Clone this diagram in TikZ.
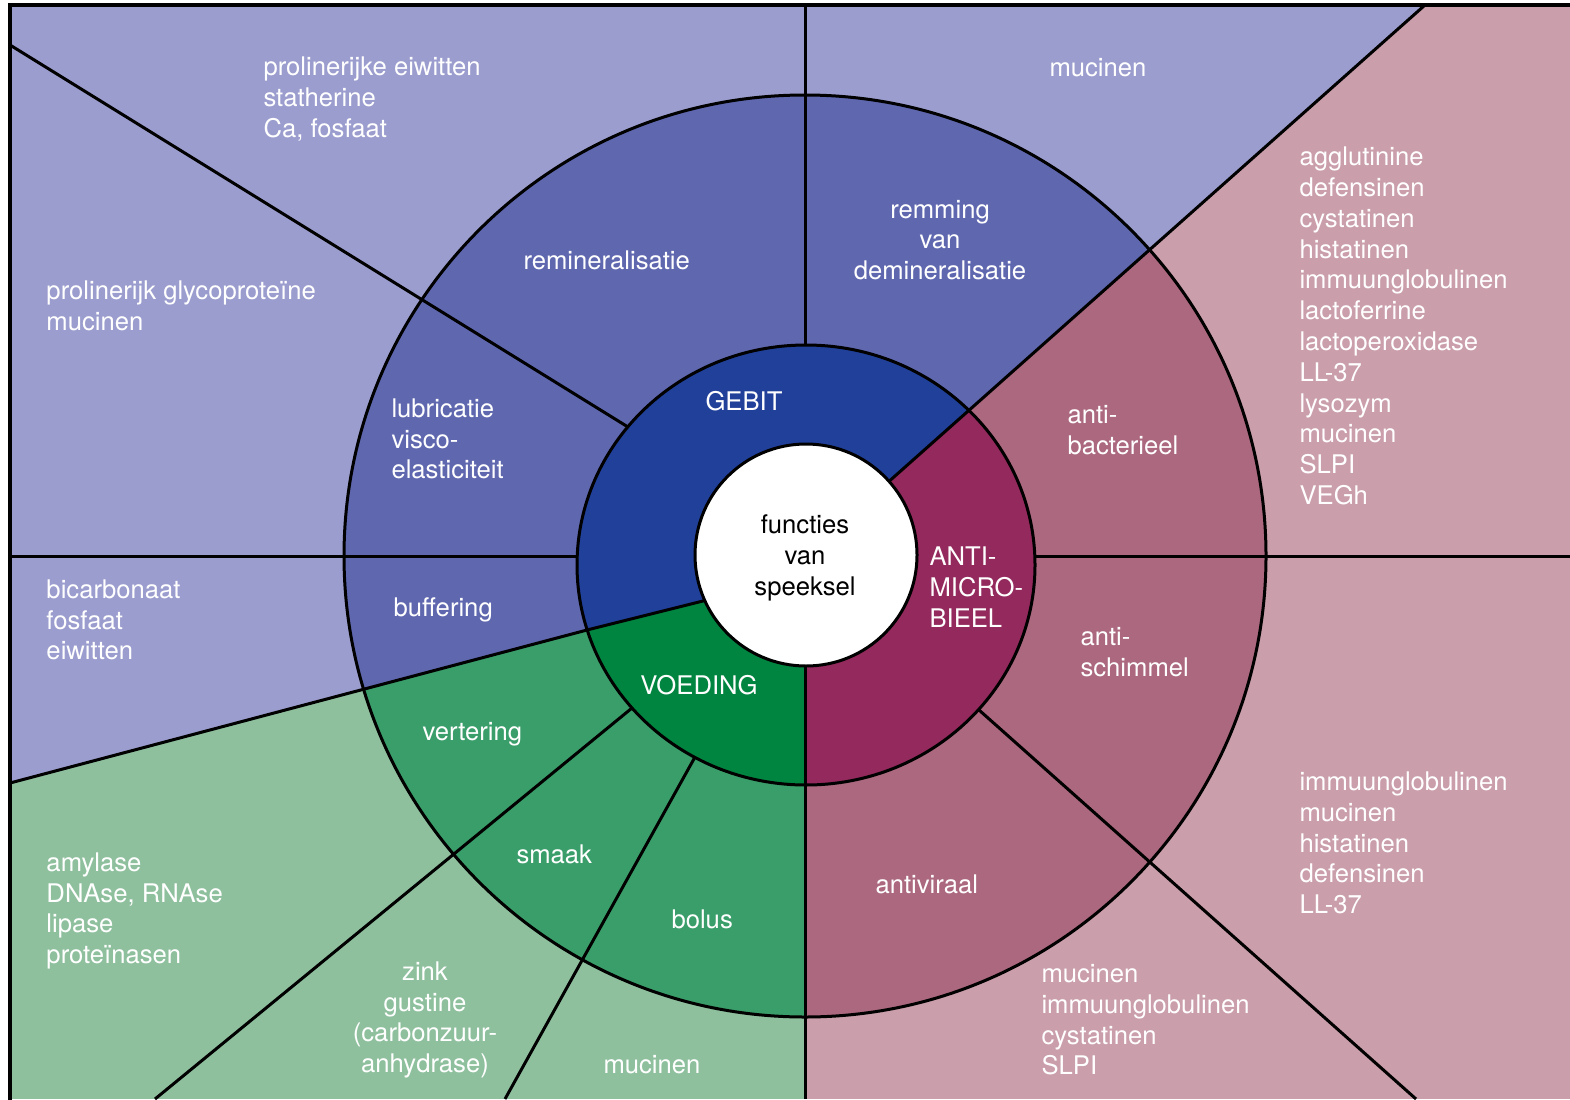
\documentclass[tikz,border=0pt]{standalone}
\usepackage{fontspec}
\setmainfont{TeX Gyre Heros}
\usepackage{tikz}

\definecolor{gebitlicht}{RGB}{155,157,206}
\definecolor{gebitmidden}{RGB}{95,103,175}
\definecolor{gebitdonker}{RGB}{33,64,154}
\definecolor{voedlicht}{RGB}{143,192,158}
\definecolor{voedmidden}{RGB}{58,158,106}
\definecolor{voeddonker}{RGB}{0,133,64}
\definecolor{antilicht}{RGB}{202,158,171}
\definecolor{antimidden}{RGB}{171,104,126}
\definecolor{antidonker}{RGB}{147,41,92}

\begin{document}
\begin{tikzpicture}[x=0.1mm, y=-0.1mm, line width=0.3mm,
        lbl/.style={text=white, font=\fontsize{7.3}{8.75}\selectfont, align=left, anchor=west, inner sep=0pt, yshift=-0.3mm},
        kop/.style={lbl, anchor=center, align=center}]
	\useasboundingbox (0,0) rectangle (1570,1099);
	\fill[white] (0,0) rectangle (1570,1099);
	% Gebit: licht, ring, binnenring
	\begin{scope}
	    \clip (805,556) -- (1425,5) -- (10,5) -- (10,783) -- (587,630) -- (703,601) -- cycle;
	    \fill[gebitlicht] (0,0) rectangle (1570,1099);
	    \fill[gebitmidden] (805,556) circle [radius=461];
	    \fill[gebitdonker] (806,565) ellipse [x radius=229, y radius=220];
	\end{scope}
	% Voeding
	\begin{scope}
	    \clip (805,556) -- (703,601) -- (587,630) -- (10,783) -- (10,1099) -- (805,1099) -- cycle;
	    \fill[voedlicht] (0,0) rectangle (1570,1099);
	    \fill[voedmidden] (805,556) circle [radius=461];
	    \fill[voeddonker] (806,565) ellipse [x radius=229, y radius=220];
	\end{scope}
	% Anti-microbieel
	\begin{scope}
	    \clip (805,556) -- (805,1099) -- (1570,1099) -- (1570,5) -- (1425,5) -- cycle;
	    \fill[antilicht] (0,0) rectangle (1570,1099);
	    \fill[antimidden] (805,556) circle [radius=461];
	    \fill[antidonker] (806,565) ellipse [x radius=229, y radius=220];
	\end{scope}
	% Scheidingslijnen
	\draw (805,5) -- (805,345);
	\draw (10,556) -- (577,556);
	\draw (1035,556) -- (1570,556);
	\draw (10,45) -- (628,427);
	\draw (632,708) -- (155,1099);
	\draw (695,757) -- (505,1099);
	\draw (979,710) -- (1416,1099);
	\draw (805,556) -- (805,1099);
	\draw (805,556) -- (1425,5);
	\draw (805,556) -- (703,601) -- (587,630) -- (10,783);
	\draw (805,556) circle [radius=461];
	\draw (806,565) ellipse [x radius=229, y radius=220];
	\draw[fill=white] (806,555) circle [radius=111];
	% Kader
	\draw[line width=0.4mm] (10,1110) -- (10,5) -- (1580,5);

	\node[kop, text=black] (functies) at (805,555) {functies\\van\\speeksel};
	\node[kop] (gebit) at (744,398) {GEBIT};
	\node[kop] (voeding) at (699,682) {VOEDING};
	\node[lbl] (antimicro) at (928,584) {ANTI-\\MICRO-\\BIEEL};

	\node[lbl] (remin) at (522,257) {remineralisatie};
	\node[kop] (remming) at (940,237) {remming\\van\\demineralisatie};
	\node[lbl] (lubric) at (390,436) {lubricatie\\visco-\\elasticiteit};
	\node[lbl] (buffer) at (392,607) {buffering};
	\node[lbl] (antibact) at (1066,427) {anti-\\bacterieel};
	\node[lbl] (antischim) at (1079,649) {anti-\\schimmel};
	\node[lbl] (antivir) at (874,881) {antiviraal};
	\node[lbl] (verter) at (421,731) {vertering};
	\node[lbl] (smaak) at (515,851) {smaak};
	\node[lbl] (bolus) at (670,916) {bolus};

	\node[lbl] (prolin) at (262,96) {prolinerijke eiwitten\\statherine\\Ca, fosfaat};
	\node[lbl] (mucboven) at (1048,65) {mucinen};
	\node[lbl] (glyco) at (45,303) {prolinerijk glycoproteïne\\mucinen};
	\node[lbl] (bicarb) at (45,617) {bicarbonaat\\fosfaat\\eiwitten};
	\node[lbl] (amylase) at (45,908) {amylase\\DNAse, RNAse\\lipase\\proteïnasen};
	\node[kop] (zink) at (425,1017) {zink\\gustine\\(carbonzuur-\\anhydrase)};
	\node[lbl] (mucgroen) at (602,1062) {mucinen};
	\node[lbl] (mucbodem) at (1040,1017) {mucinen\\immuunglobulinen\\cystatinen\\SLPI};
	\node[lbl] (bactlijst) at (1298,323) {agglutinine\\defensinen\\cystatinen\\histatinen\\immuunglobulinen\\lactoferrine\\lactoperoxidase\\LL-37\\lysozym\\mucinen\\SLPI\\VEGh};
	\node[lbl] (viruslijst) at (1298,840) {immuunglobulinen\\mucinen\\histatinen\\defensinen\\LL-37};
\end{tikzpicture}
\end{document}
